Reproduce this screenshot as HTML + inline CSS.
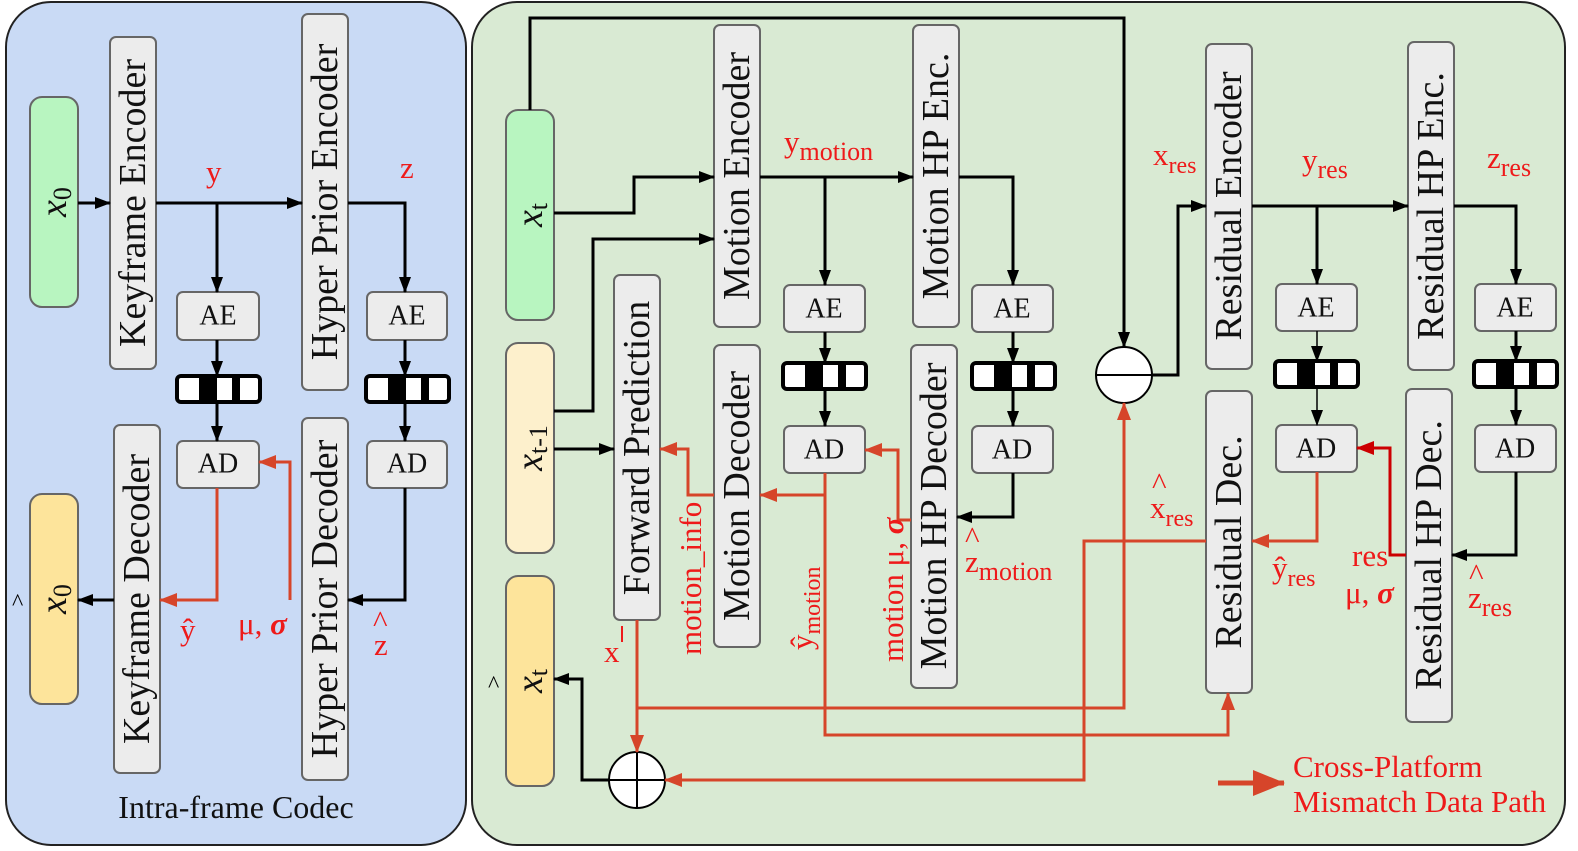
<!DOCTYPE html>
<html><head><meta charset="utf-8"><style>
html,body{margin:0;padding:0;background:#fff}
svg{display:block}
text{font-family:"Liberation Serif",serif}
.b{fill:#ececec;stroke:#666;stroke-width:2}
.t{font-size:38px;fill:#111;text-anchor:middle;dominant-baseline:central}
.s{font-size:28px;fill:#111;text-anchor:middle;dominant-baseline:central}
.k{stroke:#000;stroke-width:3;fill:none}
.r{stroke:#d6452a;stroke-width:3;fill:none}
.rt{fill:#ee1a1a;font-size:31px}
</style></head><body>
<svg width="1578" height="851" viewBox="0 0 1578 851" xmlns="http://www.w3.org/2000/svg">
<defs>
<marker id="ak" markerWidth="16" markerHeight="12" refX="15" refY="6" orient="auto" markerUnits="userSpaceOnUse" viewBox="0 0 16 12"><path d="M0,0L16,6L0,12z" fill="#000"/></marker>
<marker id="ar" markerWidth="18" markerHeight="14" refX="17" refY="7" orient="auto" markerUnits="userSpaceOnUse" viewBox="0 0 18 14"><path d="M0,0L18,7L0,14z" fill="#d6452a"/></marker>
<marker id="ad" markerWidth="18" markerHeight="14" refX="17" refY="7" orient="auto" markerUnits="userSpaceOnUse" viewBox="0 0 18 14"><path d="M0,0L18,7L0,14z" fill="#c00"/></marker>
<marker id="al" markerWidth="32" markerHeight="26" refX="31" refY="13" orient="auto" markerUnits="userSpaceOnUse" viewBox="0 0 32 26"><path d="M0,0L32,13L0,26z" fill="#d6452a"/></marker>
<g id="bar"><rect x="0" y="0" width="83" height="26" rx="4" fill="#fff" stroke="#000" stroke-width="4"/><rect x="22" y="0" width="18" height="26" fill="#000"/><rect x="55" y="0" width="8" height="26" fill="#000"/></g>
</defs>
<style>.k{marker-end:url(#ak)} .r{marker-end:url(#ar)}</style>
<!-- panels -->
<rect x="6" y="2" width="460" height="843" rx="45" fill="#c9daf5" stroke="#222" stroke-width="2"/>
<rect x="472" y="2" width="1093" height="843" rx="45" fill="#d9ead3" stroke="#222" stroke-width="2"/>

<!-- LEFT -->
<rect x="30" y="97" width="48" height="210" rx="12" fill="#b8f5c0" stroke="#666" stroke-width="2"/>
<text transform="translate(54,202) rotate(-90)" class="t" font-style="italic">x<tspan font-size="26" dy="8" font-style="normal">0</tspan></text>
<rect x="30" y="494" width="48" height="210" rx="12" fill="#fde49b" stroke="#666" stroke-width="2"/>
<text transform="translate(54,599) rotate(-90)" class="t" font-style="italic">x<tspan font-size="26" dy="8" font-style="normal">0</tspan></text>
<text x="12" y="610" font-size="24">^</text>
<rect class="b" x="110" y="37" width="46" height="332" rx="6"/><text class="t" transform="translate(133,203) rotate(-90)">Keyframe Encoder</text>
<rect class="b" x="302" y="14" width="46" height="376" rx="6"/><text class="t" transform="translate(325,202) rotate(-90)">Hyper Prior Encoder</text>
<rect class="b" x="114" y="425" width="46" height="348" rx="6"/><text class="t" transform="translate(137,599) rotate(-90)">Keyframe Decoder</text>
<rect class="b" x="302" y="418" width="46" height="362" rx="6"/><text class="t" transform="translate(325,599) rotate(-90)">Hyper Prior Decoder</text>
<rect class="b" x="177" y="292" width="82" height="48" rx="6"/><text class="s" x="218" y="316">AE</text>
<rect class="b" x="367" y="292" width="80" height="48" rx="6"/><text class="s" x="407" y="316">AE</text>
<rect class="b" x="177" y="441" width="82" height="47" rx="6"/><text class="s" x="218" y="464">AD</text>
<rect class="b" x="367" y="441" width="80" height="47" rx="6"/><text class="s" x="407" y="464">AD</text>
<use href="#bar" x="177" y="376"/><use href="#bar" x="366" y="376"/>
<path class="k" d="M78,203H110"/>
<path class="k" d="M156,203H302"/>
<path class="k" d="M217,203V292"/>
<path class="k" d="M348,203H405V292"/>
<path class="k" d="M217,340V376"/><path class="k" d="M217,402V441"/>
<path class="k" d="M405,340V376"/><path class="k" d="M405,402V441"/>
<path class="k" d="M405,488V600H348"/>
<path class="k" d="M114,600H78"/>
<path class="r" d="M217,488V600H160"/>
<path class="r" d="M290,600V462H259"/>
<text class="rt" x="206" y="182">y</text>
<text class="rt" x="400" y="178">z</text>
<text class="rt" x="180" y="640">ŷ</text>
<text class="rt" x="238" y="634">μ, <tspan font-style="italic" font-weight="bold">σ</tspan></text>
<text class="rt" x="374" y="655">z</text><text class="rt" x="373" y="632" font-size="24">^</text>
<text x="236" y="818" font-size="32" text-anchor="middle" fill="#111">Intra-frame Codec</text>

<!-- RIGHT -->
<rect x="506" y="110" width="48" height="210" rx="12" fill="#b8f5c0" stroke="#666" stroke-width="2"/>
<text transform="translate(530,215) rotate(-90)" class="t" font-style="italic">x<tspan font-size="26" dy="8" font-style="normal">t</tspan></text>
<rect x="506" y="343" width="48" height="210" rx="12" fill="#fdf0cc" stroke="#666" stroke-width="2"/>
<text transform="translate(530,448) rotate(-90)" class="t" font-style="italic">x<tspan font-size="26" dy="8" font-style="normal">t-1</tspan></text>
<rect x="506" y="576" width="48" height="210" rx="12" fill="#fde49b" stroke="#666" stroke-width="2"/>
<text transform="translate(530,681) rotate(-90)" class="t" font-style="italic">x<tspan font-size="26" dy="8" font-style="normal">t</tspan></text>
<text x="488" y="692" font-size="24">^</text>

<rect class="b" x="714" y="25" width="46" height="302" rx="6"/><text class="t" transform="translate(737,176) rotate(-90)">Motion Encoder</text>
<rect class="b" x="913" y="25" width="46" height="302" rx="6"/><text class="t" transform="translate(936,176) rotate(-90)">Motion HP Enc.</text>
<rect class="b" x="614" y="275" width="46" height="345" rx="6"/><text class="t" transform="translate(637,448) rotate(-90)">Forward Prediction</text>
<rect class="b" x="714" y="345" width="46" height="302" rx="6"/><text class="t" transform="translate(737,496) rotate(-90)">Motion Decoder</text>
<rect class="b" x="911" y="345" width="46" height="343" rx="6"/><text class="t" transform="translate(934,516) rotate(-90)">Motion HP Decoder</text>
<rect class="b" x="1206" y="44" width="46" height="325" rx="6"/><text class="t" transform="translate(1229,206) rotate(-90)">Residual Encoder</text>
<rect class="b" x="1408" y="42" width="46" height="328" rx="6"/><text class="t" transform="translate(1431,206) rotate(-90)">Residual HP Enc.</text>
<rect class="b" x="1206" y="391" width="46" height="302" rx="6"/><text class="t" transform="translate(1229,542) rotate(-90)">Residual Dec.</text>
<rect class="b" x="1406" y="389" width="46" height="333" rx="6"/><text class="t" transform="translate(1429,555) rotate(-90)">Residual HP Dec.</text>

<rect class="b" x="784" y="285" width="81" height="47" rx="6"/><text class="s" x="824" y="309">AE</text>
<rect class="b" x="972" y="285" width="81" height="47" rx="6"/><text class="s" x="1012" y="309">AE</text>
<rect class="b" x="784" y="426" width="81" height="47" rx="6"/><text class="s" x="824" y="450">AD</text>
<rect class="b" x="972" y="426" width="81" height="47" rx="6"/><text class="s" x="1012" y="450">AD</text>
<rect class="b" x="1276" y="284" width="81" height="47" rx="6"/><text class="s" x="1316" y="308">AE</text>
<rect class="b" x="1475" y="284" width="81" height="47" rx="6"/><text class="s" x="1515" y="308">AE</text>
<rect class="b" x="1276" y="425" width="81" height="47" rx="6"/><text class="s" x="1316" y="449">AD</text>
<rect class="b" x="1475" y="425" width="81" height="47" rx="6"/><text class="s" x="1515" y="449">AD</text>
<use href="#bar" x="783" y="363"/><use href="#bar" x="972" y="363"/>
<use href="#bar" x="1275" y="361"/><use href="#bar" x="1474" y="361"/>

<circle cx="1124" cy="375" r="28" fill="#fff" stroke="#000" stroke-width="2"/>
<path d="M1096,375H1152" stroke="#000" stroke-width="2"/>
<circle cx="637" cy="780" r="28" fill="#fff" stroke="#000" stroke-width="2"/>
<path d="M609,780H665M637,752V808" stroke="#000" stroke-width="2"/>

<!-- black arrows -->
<path class="k" d="M530,110V18H1124V347"/>
<path class="k" d="M554,213H634V177H714"/>
<path class="k" d="M554,411H593V239H714"/>
<path class="k" d="M554,449H614"/>
<path class="k" d="M760,177H913"/>
<path class="k" d="M825,177V285"/>
<path class="k" d="M959,177H1013V285"/>
<path class="k" d="M825,332V363"/><path class="k" d="M825,389V426"/>
<path class="k" d="M1013,332V363"/><path class="k" d="M1013,389V426"/>
<path class="k" d="M1013,473V517H957"/>
<path class="k" d="M1152,375H1178V206H1206"/>
<path class="k" d="M1252,206H1408"/>
<path class="k" d="M1317,206V284"/>
<path class="k" d="M1454,206H1516V284"/>
<path class="k" d="M1317,331V361" style="stroke-width:1.5"/><path class="k" d="M1317,387V425" style="stroke-width:1.5"/>
<path class="k" d="M1516,331V361"/><path class="k" d="M1516,387V425"/>
<path class="k" d="M1516,472V555H1452"/>
<path class="k" d="M609,780H582V679H554"/>

<!-- red arrows -->
<path class="r" d="M825,473V735H1228V693"/>
<path class="r" d="M825,495H760"/>
<path class="r" d="M911,520H898V450H865"/>
<path class="r" d="M714,495H688V449H660"/>
<path class="r" d="M637,620V752"/>
<path class="r" d="M637,708H1124V403"/>
<path class="r" d="M1317,472V541H1252"/>
<path d="M1406,555H1390V448H1357" stroke="#c00" stroke-width="3" fill="none" marker-end="url(#ad)"/>
<path class="r" d="M1206,541H1084V780H665"/>
<path d="M1218,783H1284" stroke="#d6452a" stroke-width="5" fill="none" marker-end="url(#al)"/>

<!-- red labels -->
<text class="rt" x="784" y="152">y<tspan font-size="26" dy="8">motion</tspan></text>
<text class="rt" transform="translate(812,650) rotate(-90)">ŷ<tspan font-size="24" dy="8">motion</tspan></text>
<text class="rt" transform="translate(701,655) rotate(-90)" font-size="28">motion_info</text>
<text class="rt" transform="translate(903,662) rotate(-90)" font-size="28">motion μ, <tspan font-style="italic" font-weight="bold">σ</tspan></text>
<text class="rt" x="965" y="572">z<tspan font-size="26" dy="8">motion</tspan></text><text class="rt" x="965" y="548" font-size="24">^</text>
<text class="rt" x="604" y="662">x</text><path d="M622,626V642" stroke="#ee1a1a" stroke-width="2"/>
<text class="rt" x="1153" y="165">x<tspan font-size="24" dy="8">res</tspan></text>
<text class="rt" x="1302" y="170">y<tspan font-size="26" dy="8">res</tspan></text>
<text class="rt" x="1487" y="168">z<tspan font-size="26" dy="8">res</tspan></text>
<text class="rt" x="1150" y="518">x<tspan font-size="24" dy="8">res</tspan></text><text class="rt" x="1152" y="494" font-size="24">^</text>
<text class="rt" x="1272" y="578">ŷ<tspan font-size="24" dy="8">res</tspan></text>
<text class="rt" x="1352" y="566" font-size="26">res</text>
<text class="rt" x="1345" y="603" font-size="26">μ, <tspan font-style="italic" font-weight="bold">σ</tspan></text>
<text class="rt" x="1468" y="608">z<tspan font-size="26" dy="8">res</tspan></text><text class="rt" x="1469" y="585" font-size="24">^</text>
<text class="rt" x="1293" y="777" font-size="27">Cross-Platform</text>
<text class="rt" x="1293" y="812" font-size="27">Mismatch Data Path</text>
</svg>
</body></html>
